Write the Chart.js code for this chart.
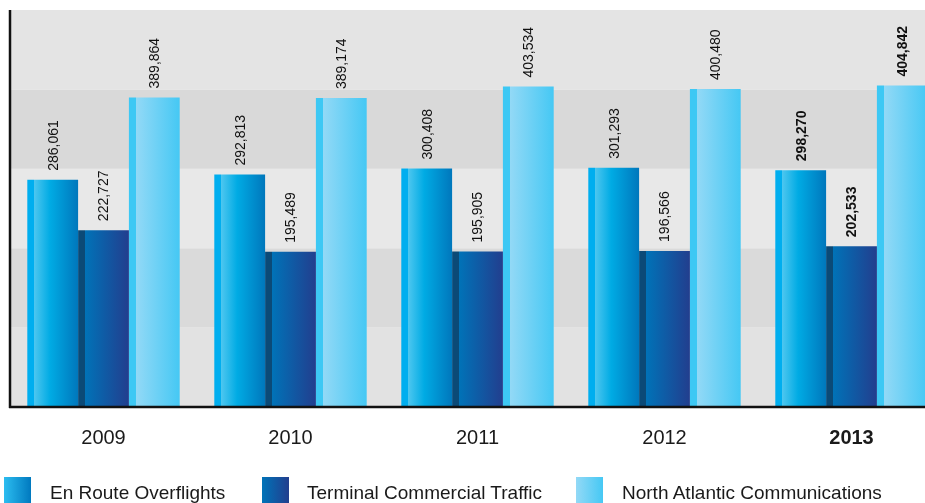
<!DOCTYPE html>
<html>
<head>
<meta charset="utf-8">
<script src="https://cdn.jsdelivr.net/npm/chart.js@4/dist/chart.umd.min.js"></script>
<style>
    html, body { margin: 0; padding: 0; background: #fff; overflow: hidden; }
    #wrap { position: relative; width: 925px; height: 503px; overflow: hidden; }
    #chartBox { position: absolute; left: 0; top: 0; width: 945px; height: 479px; }
    .legend-item { position: absolute; top: 477px; height: 26px; font: 19px 'Liberation Sans', Arial, sans-serif; color: #1a1a1a; }
    .legend-item .swatch { position: absolute; left: 0; top: 0; width: 27px; height: 26px; }
    .legend-item .text { position: absolute; top: 5px; white-space: nowrap; }
</style>
</head>
<body>
<div id="wrap">
    <div id="chartBox"><canvas id="trafficChart" width="945" height="479"></canvas></div>
    <div id="legend"></div>
</div>
<script>
// Yearly flight counts
const years = ['2009', '2010', '2011', '2012', '2013'];
const seriesNames = ['En Route Overflights', 'Terminal Commercial Traffic', 'North Atlantic Communications'];
const enRoute = [286061, 292813, 300408, 301293, 298270];
const terminal = [222727, 195489, 195905, 196566, 202533];
const northAtlantic = [389864, 389174, 403534, 400480, 404842];
const yTicks = [0, 100000, 200000, 300000, 400000, 500000];

const CAT_PCT = 0.815;
const FONT = "'Liberation Sans', Arial, sans-serif";

// gradient stops across each bar, left edge strip first
const barStops = [
    [[0, '#00aeef'], [0.14, '#00aeef'], [0.14, '#4cc6ef'], [0.45, '#00abe4'], [1, '#0077bc']],
    [[0, '#0b4a77'], [0.13, '#0b4a77'], [0.13, '#0073b8'], [1, '#223e8e']],
    [[0, '#3dc8f4'], [0.14, '#3dc8f4'], [0.14, '#93d9f6'], [1, '#45c8f4']]
];
const swatchCss = [
    'linear-gradient(to right, #2cbdf0, #0079bf)',
    'linear-gradient(to right, #0073b8, #223e8e)',
    'linear-gradient(to right, #93d9f6, #45c8f4)'
];
const bandColors = ['#e2e2e2', '#dadada', '#e8e8e8', '#d9d9d9', '#e4e4e4'];
const legendPos = [[4, 50], [262, 307], [576, 622]];

/**
 * Horizontal gradient for one bar, worked out from the category scale
 */
function barFill(ctx) {
    const stops = barStops[ctx.datasetIndex];
    const chart = ctx.chart;
    const xs = chart.scales && chart.scales.x;
    if (!xs || ctx.dataIndex === undefined) return stops[2][1];
    const cat = xs.width / years.length;
    const groupW = cat * CAT_PCT;
    const barW = groupW / 3;
    const left = xs.getPixelForValue(ctx.dataIndex) - groupW / 2 + ctx.datasetIndex * barW;
    if (!isFinite(left) || !isFinite(barW) || barW <= 0) return stops[2][1];
    const g = chart.ctx.createLinearGradient(left, 0, left + barW, 0);
    stops.forEach(s => g.addColorStop(s[0], s[1]));
    return g;
}

// alternating grey bands between the y ticks
const bandsPlugin = {
    id: 'bands',
    beforeDatasetsDraw(chart) {
        const { ctx, chartArea, scales } = chart;
        const ys = scales.y;
        ctx.save();
        for (let i = 0; i < yTicks.length - 1; i++) {
            const yBottom = ys.getPixelForValue(yTicks[i]);
            const yTop = ys.getPixelForValue(yTicks[i + 1]);
            ctx.fillStyle = bandColors[i];
            ctx.fillRect(chartArea.left, yTop, chartArea.right - chartArea.left, yBottom - yTop);
        }
        ctx.restore();
    }
};

// black axis lines on the left and bottom
const axisPlugin = {
    id: 'axisLines',
    afterDatasetsDraw(chart) {
        const { ctx, chartArea } = chart;
        ctx.save();
        ctx.strokeStyle = '#111';
        ctx.lineWidth = 2.5;
        ctx.beginPath();
        ctx.moveTo(chartArea.left, chartArea.top);
        ctx.lineTo(chartArea.left, chartArea.bottom + 1);
        ctx.moveTo(chartArea.left - 1, chartArea.bottom);
        ctx.lineTo(chart.width, chartArea.bottom);
        ctx.stroke();
        ctx.restore();
    }
};

// rotated value above every bar, bold for the latest year
const valueLabelPlugin = {
    id: 'valueLabels',
    afterDatasetsDraw(chart) {
        const ctx = chart.ctx;
        ctx.save();
        ctx.fillStyle = '#111';
        ctx.textAlign = 'left';
        ctx.textBaseline = 'middle';
        chart.data.datasets.forEach((ds, di) => {
            chart.getDatasetMeta(di).data.forEach((bar, i) => {
                ctx.font = (i === years.length - 1 ? 'bold ' : '') + '14px ' + FONT;
                ctx.save();
                ctx.translate(bar.x, bar.y - 9);
                ctx.rotate(-Math.PI / 2);
                ctx.fillText(ds.data[i].toLocaleString('en-US'), 0, 1);
                ctx.restore();
            });
        });
        ctx.restore();
    }
};

function renderTrafficChart() {
    const canvas = document.getElementById('trafficChart');
    const seriesData = [enRoute, terminal, northAtlantic];

    new Chart(canvas, {
        type: 'bar',
        data: {
            labels: years,
            datasets: seriesData.map((values, i) => ({
                label: seriesNames[i],
                data: values,
                backgroundColor: barFill,
                borderWidth: 0,
                barPercentage: 1.0,
                categoryPercentage: CAT_PCT
            }))
        },
        options: {
            responsive: false,
            animation: false,
            events: [],
            layout: { padding: { left: 10, top: 10, right: 0, bottom: 10 } },
            plugins: {
                legend: { display: false },
                tooltip: { enabled: false }
            },
            scales: {
                x: {
                    grid: { display: false, drawTicks: false },
                    border: { display: false },
                    ticks: {
                        color: '#1a1a1a',
                        padding: 19,
                        font: (c) => ({ family: FONT, size: 20, weight: c.index === years.length - 1 ? 'bold' : 'normal' })
                    }
                },
                y: {
                    display: false,
                    min: yTicks[0],
                    max: yTicks[yTicks.length - 1]
                }
            }
        },
        plugins: [bandsPlugin, axisPlugin, valueLabelPlugin]
    });

    // legend row under the chart
    const legend = document.getElementById('legend');
    seriesNames.forEach((name, i) => {
        const item = document.createElement('div');
        item.className = 'legend-item';
        item.style.left = legendPos[i][0] + 'px';
        item.innerHTML = '<div class="swatch" style="background:' + swatchCss[i] + '"></div>' +
            '<div class="text" style="left:' + (legendPos[i][1] - legendPos[i][0]) + 'px">' + name + '</div>';
        legend.appendChild(item);
    });
}

renderTrafficChart();
</script>
</body>
</html>
